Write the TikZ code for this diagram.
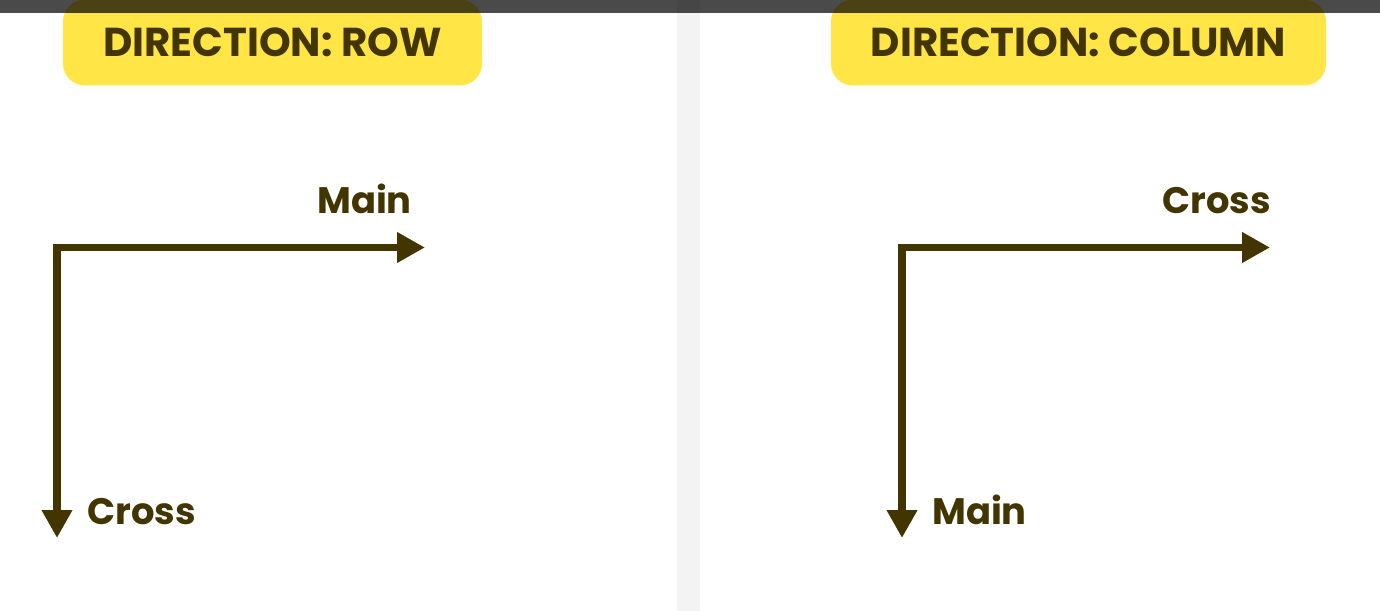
\documentclass[tikz,border=0pt]{standalone}
\usepackage{fontspec}
\setmainfont{Poppins}
\usetikzlibrary{arrows.meta}
\definecolor{axisbrown}{HTML}{433500}
\definecolor{titleyellow}{HTML}{FFE546}
\definecolor{splitgray}{HTML}{F3F3F3}
\tikzset{
  titlebox/.style={fill=titleyellow,rounded corners=22bp,minimum width=419bp,minimum height=86bp,
    text height=28.5bp,text depth=0pt,inner sep=0pt,text=axisbrown,font=\bfseries\fontsize{40.5}{40.5}\selectfont},
  axislabel/.style={anchor=base west,inner sep=0pt,text=axisbrown,font=\bfseries\fontsize{37}{37}\selectfont},
  axis/.style={draw=axisbrown,line width=7.5bp,line join=miter,{Triangle[length=28bp,width=29bp]}-{Triangle[length=28bp,width=29bp]}},
}
\begin{document}
\begin{tikzpicture}[x=1bp,y=-1bp]
\useasboundingbox (0,0) rectangle (1380,611);
%% panels
\fill[white] (0,0) rectangle (1380,611);
\fill[splitgray] (677,0) rectangle (700,611);
%% titles
\node (rowtitle) [titlebox] at (272.5,42.5) {DIRECTION: ROW};
\node (coltitle) [titlebox,minimum width=495bp] at (1078.5,42.5) {DIRECTION: COLUMN};
%% row axes
\coordinate (rowcorner) at (57,247.5);
\coordinate (rowmainend) at (425,247.5);
\coordinate (rowcrossend) at (57,538);
\draw [axis] (rowmainend) -- (rowcorner) -- (rowcrossend);
\node (rowmain) [axislabel] at (317,213) {Main};
\node (rowcross) [axislabel] at (87,524) {Cross};
%% column axes
\coordinate (colcorner) at (902,247.5);
\coordinate (colcrossend) at (1270,247.5);
\coordinate (colmainend) at (902,538);
\draw [axis] (colcrossend) -- (colcorner) -- (colmainend);
\node (colcross) [axislabel] at (1162,213) {Cross};
\node (colmain) [axislabel] at (932,524) {Main};
%% top bar
\fill[black,fill opacity=0.71] (0,0) rectangle (1380,13);
%
\end{tikzpicture}
\end{document}
